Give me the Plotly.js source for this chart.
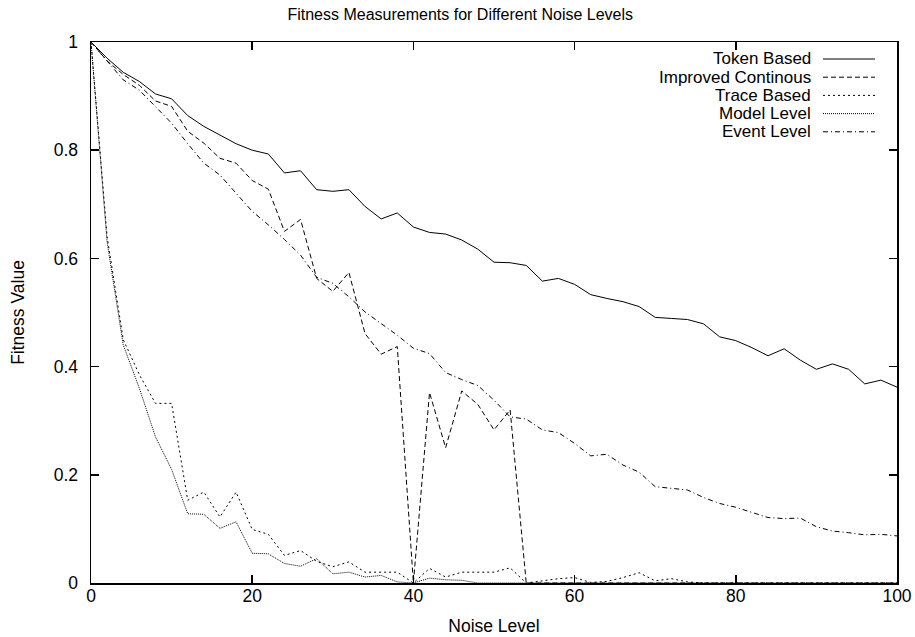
<!DOCTYPE html>
<html>
<head>
<meta charset="utf-8">
<script src="https://cdn.plot.ly/plotly-3.0.1.min.js"></script>
<style>html,body{margin:0;padding:0;background:#fff;}#chart{width:915px;height:637px;}</style>
</head>
<body>
<div id="chart"></div>
<script>
// Noise level (x) values
const noiseLevels = [0,2,4,6,8,10,12,14,16,18,20,22,24,26,28,30,32,34,36,38,40,42,44,46,48,50,52,54,56,58,60,62,64,66,68,70,72,74,76,78,80,82,84,86,88,90,92,94,96,98,100];

const tokenBased = [1.0,0.97,0.944,0.927,0.904,0.895,0.864,0.844,0.828,0.812,0.80,0.793,0.758,0.762,0.727,0.724,0.727,0.696,0.673,0.684,0.658,0.648,0.645,0.634,0.617,0.593,0.592,0.587,0.558,0.563,0.552,0.533,0.526,0.52,0.511,0.491,0.489,0.487,0.479,0.455,0.448,0.435,0.42,0.433,0.412,0.395,0.405,0.395,0.368,0.375,0.362];

const improvedContinous = [1.0,0.965,0.94,0.92,0.891,0.881,0.835,0.813,0.785,0.776,0.744,0.728,0.65,0.672,0.563,0.539,0.574,0.461,0.423,0.437,0.0,0.352,0.25,0.355,0.33,0.283,0.32,0.0,0,0,0,0,0,0,0,0,0,0,0,0,0,0,0,0,0,0,0,0,0,0,0];

const traceBased = [1.0,0.64,0.45,0.385,0.332,0.332,0.153,0.168,0.122,0.168,0.099,0.09,0.051,0.06,0.04,0.03,0.039,0.02,0.02,0.02,0.0,0.027,0.011,0.02,0.02,0.02,0.028,0.0,0.004,0.008,0.01,0.001,0.003,0.01,0.019,0.004,0.008,0.002,0,0,0,0,0,0,0,0,0,0,0,0,0];

const modelLevel = [1.0,0.63,0.44,0.36,0.27,0.21,0.128,0.127,0.101,0.113,0.055,0.054,0.036,0.031,0.045,0.017,0.02,0.011,0.014,0.002,0.0,0.009,0.006,0.005,0,0,0,0,0,0,0,0,0,0,0,0,0,0,0,0,0,0,0,0,0,0,0,0,0,0,0];

const eventLevel = [1.0,0.965,0.93,0.911,0.88,0.85,0.812,0.776,0.754,0.72,0.687,0.662,0.635,0.606,0.565,0.554,0.529,0.501,0.48,0.458,0.434,0.424,0.389,0.376,0.365,0.338,0.307,0.303,0.283,0.278,0.258,0.235,0.238,0.218,0.205,0.178,0.175,0.172,0.158,0.147,0.14,0.131,0.121,0.119,0.12,0.104,0.096,0.093,0.089,0.09,0.087];

const seriesNames = ["Token Based","Improved Continous","Trace Based","Model Level","Event Level"];
const seriesData = [tokenBased, improvedContinous, traceBased, modelLevel, eventLevel];
const dashes = ["solid","5px,3px","2px,3px","1px,1px","5px,3px,1px,3px"];

const FONT = "Liberation Sans, Arial, Helvetica, sans-serif";
const FS = 17.5;
const LEGFS = 17;

const traces = seriesData.map((ys, i) => ({
  x: noiseLevels,
  y: ys,
  type: "scatter",
  mode: "lines",
  name: seriesNames[i],
  line: {color: "#000", width: 1, dash: dashes[i]},
  showlegend: false
}));

// gnuplot-style legend: right-aligned labels, line sample to the right
const annotations = [];
const shapes = [];
const legTop = 59, legStep = 18.2;
seriesNames.forEach((n, i) => {
  const yPix = legTop + i * legStep;
  const yp = 1 - (yPix - 42) / (583 - 42);
  annotations.push({
    xref: "paper", yref: "paper",
    x: (812 - 91) / (897 - 91), y: yp,
    xanchor: "right", yanchor: "middle",
    height: 17, borderpad: 0, valign: "middle",
    text: n, showarrow: false,
    font: {family: FONT, size: LEGFS, color: "#000"}
  });
  shapes.push({
    type: "line", xref: "paper", yref: "paper",
    x0: (823 - 91) / (897 - 91), x1: (875 - 91) / (897 - 91),
    y0: yp, y1: yp,
    line: {color: "#000", width: 1, dash: dashes[i]}
  });
});

const layout = {
  width: 915, height: 637,
  margin: {l: 91, r: 18, t: 42, b: 54},
  paper_bgcolor: "#fff", plot_bgcolor: "#fff",
  font: {family: FONT, size: FS, color: "#000"},
  title: {
    text: "Fitness Measurements for Different Noise Levels",
    font: {family: FONT, size: 16, color: "#000"},
    xref: "container", x: 0.503, xanchor: "center",
    yref: "container", y: 1 - 14 / 637, yanchor: "middle"
  },
  xaxis: {
    range: [0, 100], tick0: 0, dtick: 20,
    ticks: "inside", ticklen: 8, tickwidth: 1.5, tickcolor: "#000",
    showline: true, linecolor: "#000", linewidth: 1.5, mirror: "ticks",
    showgrid: false, zeroline: false,
    tickfont: {family: FONT, size: FS, color: "#000"},
    ticklabelstandoff: -4,
    title: {text: "Noise Level", font: {family: FONT, size: FS, color: "#000"}, standoff: 15}
  },
  yaxis: {
    range: [0, 1], tick0: 0, dtick: 0.2,
    ticks: "inside", ticklen: 8, tickwidth: 1.5, tickcolor: "#000",
    showline: true, linecolor: "#000", linewidth: 1.5, mirror: "ticks",
    showgrid: false, zeroline: false,
    tickfont: {family: FONT, size: FS, color: "#000"},
    ticklabelstandoff: 8,
    title: {text: "Fitness Value", font: {family: FONT, size: FS, color: "#000"}, standoff: 24}
  },
  annotations: annotations,
  shapes: shapes,
  showlegend: false
};

Plotly.newPlot("chart", traces, layout, {displayModeBar: false, staticPlot: true});
</script>
</body>
</html>
